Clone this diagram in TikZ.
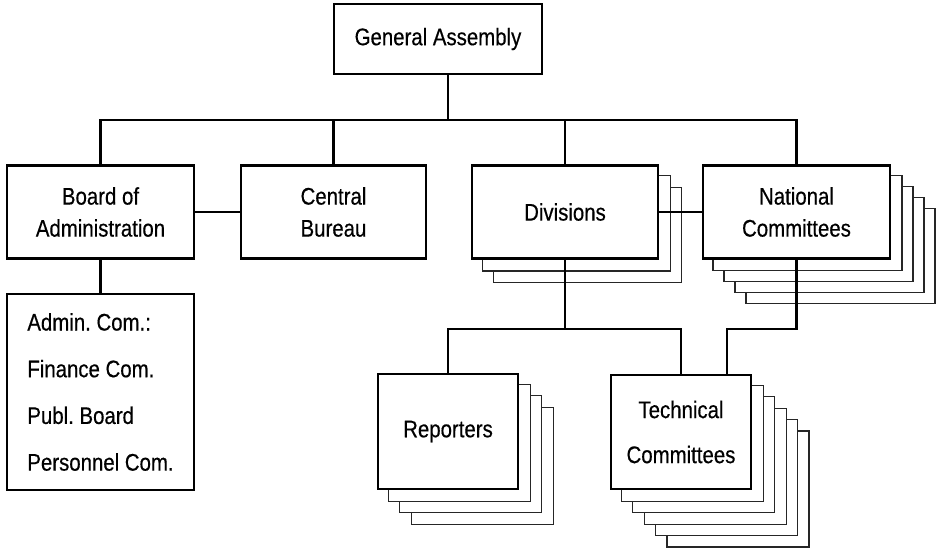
\documentclass[tikz,border=0pt]{standalone}
\usepackage{fontspec}
\setmainfont{Liberation Sans}[FakeStretch=0.85,FakeBold=0.4]
\usetikzlibrary{calc}
\pgfdeclarelayer{bg}
\pgfsetlayers{bg,main}
\newcommand\stackbehind[3]{%
  \begin{pgfonlayer}{bg}
  \foreach \k in {#2,...,1}{
    \draw[back] ($(#1.south west)+(\k*#3,-\k*#3)$) rectangle ($(#1.north east)+(\k*#3,-\k*#3)$);
  }
  \end{pgfonlayer}}
\frenchspacing
\begin{document}
\begin{tikzpicture}[x=1pt,y=1pt,
  box/.style={draw, line width=2.1pt, fill=white, inner sep=0pt, align=center, font=\fontsize{24}{32}\selectfont},
  back/.style={draw=black!85, line width=1.2pt, fill=white},
  conn/.style={line width=2.1pt}]
\useasboundingbox (0,0) rectangle (937,-549);
\begin{pgfonlayer}{bg}
\fill[white] (0,0) rectangle (937,-549);
\end{pgfonlayer}

\node[box, minimum width=208, minimum height=70] (GA) at (438,-39) {General Assembly};
\node[box, minimum width=187, minimum height=93] (Board) at (100.5,-212) {Board of\\Administration};
\node[box, minimum width=185, minimum height=93] (Central) at (333.5,-212) {Central\\Bureau};
\node[box, minimum width=186, minimum height=93] (Div) at (565,-212) {Divisions};
\node[box, minimum width=187, minimum height=93] (Nat) at (796.5,-212) {National\\Committees};
\node[box, minimum width=187, minimum height=196, align=left, font=\fontsize{24}{46.7}\selectfont] (Admin) at (100.5,-392) {Admin. Com.:\\Finance Com.\\Publ. Board\\Personnel Com.};
\node[box, minimum width=140, minimum height=115] (Rep) at (448,-431.5) {Reporters};
\node[box, minimum width=140, minimum height=114, font=\fontsize{24}{45}\selectfont] (Tech) at (681,-432) {Technical\\Committees};

\stackbehind{Div}{2}{11.4}
\stackbehind{Nat}{4}{11}
\stackbehind{Rep}{3}{11.4}
\stackbehind{Tech}{5}{11.4}

\coordinate (bar) at (0,-120);
\coordinate (low) at (0,-329);
\coordinate (GAd) at ($(GA.south)+(10,0)$);
\coordinate (TechIn) at ($(Tech.north)+(46,0)$);

\draw[conn] (GAd) -- (GAd |- bar);
\draw[conn] (Board.north) |- (Nat.north |- bar) -- (Nat.north);
\draw[conn] (Central.north) -- (Central.north |- bar);
\draw[conn] (Div.north) -- (Div.north |- bar);
\draw[conn] (Board.east) -- (Central.west);
\draw[conn] (Div.east) -- (Nat.west);
\draw[conn] (Board.south) -- (Admin.north);
\draw[conn] (Div.south) -- (Div.south |- low);
\draw[conn] (Rep.north) |- (Tech.north |- low) -- (Tech.north);
\draw[conn] (Nat.south) |- (TechIn |- low) -- (TechIn);
\end{tikzpicture}
\end{document}
